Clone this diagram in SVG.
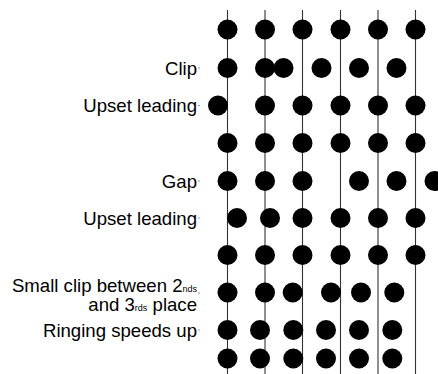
<svg xmlns="http://www.w3.org/2000/svg" width="438" height="374" viewBox="0 0 438 374">
<style>
.ln{stroke:#333;stroke-width:1.1;fill:none}
.tk{stroke:#999;stroke-width:1;fill:none}
.d{fill:#000}
.lb{font-family:"Liberation Sans",Arial,sans-serif;font-size:18.6px;fill:#000;text-anchor:end}
.sm{font-size:9px}
</style>
<rect width="438" height="374" fill="#fff"/>
<g id="connectors">
<line class="ln" x1="227.5" y1="10" x2="227.5" y2="374"/>
<line class="ln" x1="265" y1="10" x2="265" y2="374"/>
<line class="ln" x1="302.5" y1="10" x2="302.5" y2="374"/>
<line class="ln" x1="340.5" y1="10" x2="340.5" y2="374"/>
<line class="ln" x1="378" y1="10" x2="378" y2="374"/>
<line class="ln" x1="415.5" y1="10" x2="415.5" y2="374"/>
<line class="tk" x1="198" y1="68" x2="200" y2="68"/>
<line class="tk" x1="198" y1="105.5" x2="200" y2="105.5"/>
<line class="tk" x1="198" y1="181" x2="200" y2="181"/>
<line class="tk" x1="198" y1="218" x2="200" y2="218"/>
<line class="tk" x1="198" y1="293" x2="200" y2="293"/>
<line class="tk" x1="198" y1="330" x2="200" y2="330"/>
</g>
<g id="row1">
<circle class="d" cx="227.5" cy="29.5" r="10"/><circle class="d" cx="265" cy="29.5" r="10"/><circle class="d" cx="302.5" cy="29.5" r="10"/><circle class="d" cx="340.5" cy="29.5" r="10"/><circle class="d" cx="378" cy="29.5" r="10"/><circle class="d" cx="415.5" cy="29.5" r="10"/>
</g>
<g id="row2">
<text class="lb" x="197" y="74.5">Clip</text>
<circle class="d" cx="227.5" cy="68" r="10"/><circle class="d" cx="265" cy="68" r="10"/><circle class="d" cx="283.5" cy="68" r="10"/><circle class="d" cx="321.5" cy="68" r="10"/><circle class="d" cx="359" cy="68" r="10"/><circle class="d" cx="396.5" cy="68" r="10"/>
</g>
<g id="row3">
<text class="lb" x="197" y="112">Upset leading</text>
<circle class="d" cx="218" cy="105.5" r="10"/><circle class="d" cx="265" cy="105.5" r="10"/><circle class="d" cx="302.5" cy="105.5" r="10"/><circle class="d" cx="340.5" cy="105.5" r="10"/><circle class="d" cx="378" cy="105.5" r="10"/><circle class="d" cx="415.5" cy="105.5" r="10"/>
</g>
<g id="row4">
<circle class="d" cx="227.5" cy="143" r="10"/><circle class="d" cx="265" cy="143" r="10"/><circle class="d" cx="302.5" cy="143" r="10"/><circle class="d" cx="340.5" cy="143" r="10"/><circle class="d" cx="378" cy="143" r="10"/><circle class="d" cx="415.5" cy="143" r="10"/>
</g>
<g id="row5">
<text class="lb" x="197" y="187.5">Gap</text>
<circle class="d" cx="227.5" cy="181" r="10"/><circle class="d" cx="265" cy="181" r="10"/><circle class="d" cx="302.5" cy="181" r="10"/><circle class="d" cx="359" cy="181" r="10"/><circle class="d" cx="396.5" cy="181" r="10"/><circle class="d" cx="434.5" cy="181" r="10"/>
</g>
<g id="row6">
<text class="lb" x="197" y="224.5">Upset leading</text>
<circle class="d" cx="237" cy="218" r="10"/><circle class="d" cx="270" cy="218" r="10"/><circle class="d" cx="302.5" cy="218" r="10"/><circle class="d" cx="340.5" cy="218" r="10"/><circle class="d" cx="378" cy="218" r="10"/><circle class="d" cx="415.5" cy="218" r="10"/>
</g>
<g id="row7">
<circle class="d" cx="227.5" cy="255" r="10"/><circle class="d" cx="265" cy="255" r="10"/><circle class="d" cx="302.5" cy="255" r="10"/><circle class="d" cx="340.5" cy="255" r="10"/><circle class="d" cx="378" cy="255" r="10"/><circle class="d" cx="415.5" cy="255" r="10"/>
</g>
<g id="row8">
<text class="lb" x="197" y="292">Small clip between 2<tspan class="sm">nds</tspan></text>
<text class="lb" x="197" y="311">and 3<tspan class="sm">rds</tspan> place</text>
<circle class="d" cx="227.5" cy="292.5" r="10"/><circle class="d" cx="265" cy="292.5" r="10"/><circle class="d" cx="292.7" cy="292.5" r="10"/><circle class="d" cx="331" cy="292.5" r="10"/><circle class="d" cx="361" cy="292.5" r="10"/><circle class="d" cx="394.3" cy="292.5" r="10"/>
</g>
<g id="row9">
<text class="lb" x="197" y="336.5">Ringing speeds up</text>
<circle class="d" cx="227.5" cy="330" r="10"/><circle class="d" cx="260" cy="330" r="10"/><circle class="d" cx="293.3" cy="330" r="10"/><circle class="d" cx="326" cy="330" r="10"/><circle class="d" cx="359" cy="330" r="10"/><circle class="d" cx="392.3" cy="330" r="10"/>
</g>
<g id="row10">
<circle class="d" cx="227.5" cy="358.5" r="10"/><circle class="d" cx="260" cy="358.5" r="10"/><circle class="d" cx="293.3" cy="358.5" r="10"/><circle class="d" cx="326" cy="358.5" r="10"/><circle class="d" cx="359" cy="358.5" r="10"/><circle class="d" cx="392.3" cy="358.5" r="10"/>
</g>
</svg>
